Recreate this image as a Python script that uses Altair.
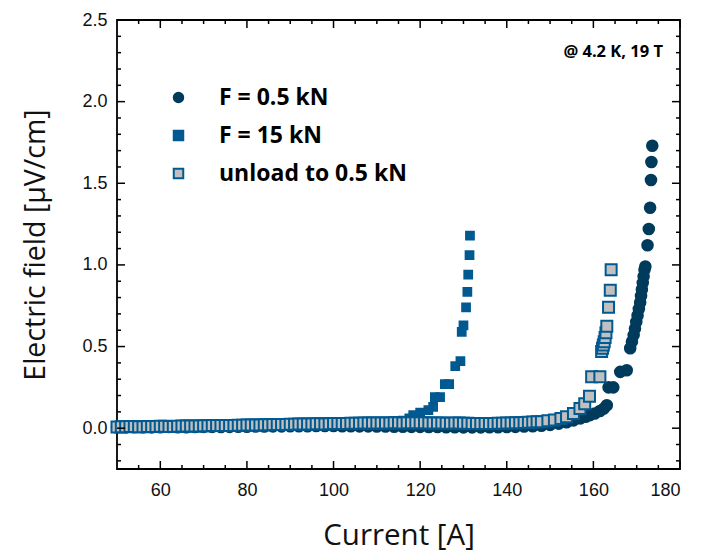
import altair as alt
import pandas as pd

# ---------------- data ----------------
series_names = ["F = 0.5 kN", "F = 15 kN", "unload to 0.5 kN"]

i_05 = [50, 52, 54, 56, 58, 60, 62, 64, 66, 68, 70, 72, 74, 76, 78, 80, 82, 84, 86, 88,
        90, 92, 94, 96, 98, 100, 102, 104, 106, 108, 110, 112, 114, 116, 118, 120, 122,
        124, 126, 128, 130, 132, 134, 136, 138, 140, 142, 144, 146, 148, 150, 152, 153.8,
        155.4, 157, 158.2, 159.2, 160.3, 161.5, 162.4, 163.1, 163.5, 164.6, 166.2, 167.7,
        168.5, 168.9, 169.3, 169.6, 169.9, 170.2, 170.5, 170.8, 171.0, 171.2, 171.4, 171.6,
        171.8, 172.0, 172.5, 172.8, 173.1, 173.3, 173.4, 173.6]
e_05 = [0.005, 0.005, 0.006, 0.006, 0.005, 0.006, 0.007, 0.006, 0.006, 0.007, 0.008, 0.008,
        0.007, 0.008, 0.009, 0.009, 0.010, 0.010, 0.011, 0.011, 0.012, 0.012, 0.012, 0.013,
        0.013, 0.013, 0.012, 0.012, 0.011, 0.011, 0.010, 0.010, 0.009, 0.009, 0.008, 0.008,
        0.007, 0.007, 0.006, 0.006, 0.005, 0.005, 0.005, 0.006, 0.006, 0.007, 0.008, 0.010,
        0.012, 0.015, 0.020, 0.028, 0.036, 0.048, 0.060, 0.070, 0.080, 0.090, 0.105, 0.120,
        0.140, 0.250, 0.250, 0.345, 0.355, 0.49, 0.53, 0.57, 0.61, 0.65, 0.69, 0.73, 0.77,
        0.81, 0.85, 0.89, 0.93, 0.97, 0.99, 1.12, 1.22, 1.35, 1.52, 1.63, 1.73]

i_15 = [50, 52, 54, 56, 58, 60, 62, 64, 66, 68, 70, 72, 74, 76, 78, 80, 82, 84, 86, 88,
        90, 92, 94, 96, 98, 100, 102, 104, 106, 108, 110, 112, 114, 116, 117.5, 118.4,
        120.0, 121.9, 123.0, 123.4, 124.6, 125.7, 126.7, 128.1, 129.3, 129.6, 130.0, 130.6,
        130.9, 131.1, 131.4, 131.5]
e_15 = [0.010, 0.011, 0.010, 0.012, 0.011, 0.013, 0.012, 0.014, 0.016, 0.015, 0.017, 0.018,
        0.017, 0.019, 0.021, 0.020, 0.022, 0.024, 0.023, 0.025, 0.027, 0.026, 0.028, 0.030,
        0.029, 0.031, 0.033, 0.032, 0.034, 0.036, 0.035, 0.038, 0.041, 0.046, 0.060, 0.080,
        0.095, 0.110, 0.130, 0.190, 0.190, 0.270, 0.270, 0.380, 0.410, 0.590, 0.630, 0.740,
        0.835, 0.940, 1.060, 1.180]

i_unload = [50, 51, 52, 53, 54, 55, 56, 57, 58, 59, 60, 61, 62, 63, 64, 65, 66, 67, 68, 69,
            70, 71, 72, 73, 74, 75, 76, 77, 78, 79, 80, 81, 82, 83, 84, 85, 86, 87, 88, 89,
            90, 91, 92, 93, 94, 95, 96, 97, 98, 99, 100, 101, 102, 103, 104, 105, 106, 107,
            108, 109, 110, 111, 112, 113, 114, 115, 116, 117, 118, 119, 120, 121, 122, 123,
            124, 125, 126, 127, 128, 129, 130, 131, 132, 133, 134, 135, 136, 137, 138, 139,
            140, 141, 142, 143, 144, 145, 146, 147, 148, 149.5, 151, 152.5, 153.8, 155.4,
            156.9, 158.0, 159.1, 159.6, 161.5, 161.9, 162.1, 162.3, 162.5, 162.7, 162.9,
            163.1, 163.5, 163.9, 164.1]
e_unload = [0.008, 0.009, 0.009, 0.010, 0.010, 0.009, 0.009, 0.010, 0.011, 0.011, 0.012,
            0.012, 0.011, 0.011, 0.012, 0.013, 0.014, 0.014, 0.013, 0.013, 0.015, 0.015,
            0.016, 0.016, 0.017, 0.017, 0.016, 0.016, 0.018, 0.018, 0.019, 0.019, 0.020,
            0.020, 0.021, 0.021, 0.022, 0.022, 0.022, 0.023, 0.024, 0.024, 0.025, 0.025,
            0.026, 0.026, 0.027, 0.027, 0.026, 0.027, 0.028, 0.028, 0.029, 0.029, 0.030,
            0.030, 0.030, 0.031, 0.031, 0.031, 0.032, 0.032, 0.031, 0.032, 0.033, 0.033,
            0.032, 0.033, 0.034, 0.034, 0.033, 0.033, 0.032, 0.032, 0.031, 0.031, 0.030,
            0.030, 0.031, 0.031, 0.030, 0.030, 0.029, 0.029, 0.028, 0.028, 0.029, 0.029,
            0.030, 0.030, 0.031, 0.032, 0.033, 0.034, 0.035, 0.036, 0.038, 0.039, 0.040,
            0.045, 0.050, 0.060, 0.070, 0.090, 0.120, 0.150, 0.196, 0.315, 0.315, 0.470,
            0.490, 0.510, 0.530, 0.555, 0.585, 0.625, 0.740, 0.845, 0.970]

x_label_values = [60, 80, 100, 120, 140, 160, 180]
x_minor_values = [55, 65, 70, 75, 85, 90, 95, 105, 110, 115, 125, 130, 135, 145, 150,
                  155, 165, 170, 175]
y_label_values = [0.0, 0.5, 1.0, 1.5, 2.0, 2.5]
y_minor_values = [-0.2, -0.1, 0.1, 0.2, 0.3, 0.4, 0.6, 0.7, 0.8, 0.9, 1.1, 1.2, 1.3, 1.4,
                  1.6, 1.7, 1.8, 1.9, 2.1, 2.2, 2.3, 2.4]
annotation = ["@ 4.2 K, 19 T"]

# ---------------- build tables ----------------
rows = []
for name, xs, ys in [(series_names[0], i_05, e_05),
                     (series_names[1], i_15, e_15),
                     (series_names[2], i_unload, e_unload)]:
    for a, b in zip(xs, ys):
        rows.append({"series": name, "I": a, "E": b})
df = pd.DataFrame(rows)

W, H = 563, 449
NAVY = "#003B5C"
BLUE = "#005A91"
GRAY = "#C0C0C0"
TITLE_FONT = "Open Sans"
TICK_FONT = "Liberation Sans"

SIZE_CIRCLE, SIZE_SMALL, SIZE_UNLOAD = 112, 60, 121
test_small = "datum.series === 'F = 15 kN'"
test_unload = "datum.series === 'unload to 0.5 kN'"

xscale = alt.Scale(domain=[50, 180], nice=False, zero=False)
yscale = alt.Scale(domain=[-0.25, 2.5], nice=False, zero=False)

legend = alt.Legend(
    title=None, orient="none", legendX=50, legendY=66,
    labelFont=TITLE_FONT, labelFontSize=23, labelFontWeight="bold",
    labelColor="black", rowPadding=14, labelOffset=29, labelLimit=400,
    symbolOpacity=1, symbolStrokeWidth=2, symbolSize=90,
)

points = alt.Chart(df).mark_point(filled=False, opacity=1, strokeWidth=2).encode(
    x=alt.X("I:Q", scale=xscale,
            axis=alt.Axis(values=x_label_values, ticks=False, domain=False, grid=False,
                          labelFont=TICK_FONT, labelFontSize=18, labelColor="#111",
                          labelPadding=12, title="Current [A]", titleFont=TITLE_FONT,
                          titleFontSize=29.5, titleFontWeight="normal", titleColor="#111",
                          titlePadding=22)),
    y=alt.Y("E:Q", scale=yscale,
            axis=alt.Axis(values=y_label_values, format=".1f", ticks=False, domain=False,
                          grid=False, labelFont=TICK_FONT, labelFontSize=18,
                          labelColor="#111", labelPadding=10,
                          title="Electric field [µV/cm]", titleFont=TITLE_FONT,
                          titleFontSize=28.5, titleFontWeight="normal", titleColor="#111",
                          titlePadding=31)),
    shape=alt.Shape("series:N", scale=alt.Scale(domain=series_names,
                                                range=["circle", "square", "square"]),
                    legend=legend),
    fill=alt.Fill("series:N", scale=alt.Scale(domain=series_names,
                                              range=[NAVY, BLUE, GRAY]), legend=legend),
    stroke=alt.Stroke("series:N", scale=alt.Scale(domain=series_names,
                                                  range=[NAVY, BLUE, BLUE]), legend=legend),
    size=alt.SizeValue(SIZE_CIRCLE, condition=[
        {"test": test_small, "value": SIZE_SMALL},
        {"test": test_unload, "value": SIZE_UNLOAD}]),
)

xmaj = pd.DataFrame({"v": x_label_values})
xmin = pd.DataFrame({"v": x_minor_values})
ymaj = pd.DataFrame({"v": y_label_values})
ymin = pd.DataFrame({"v": y_minor_values})


def xticks(data, length):
    bottom = alt.Chart(data).mark_rule(color="black", strokeWidth=1.5).encode(
        x=alt.X("v:Q", scale=xscale), y=alt.value(H), y2=alt.value(H - length))
    top = alt.Chart(data).mark_rule(color="black", strokeWidth=1.5).encode(
        x=alt.X("v:Q", scale=xscale), y=alt.value(0), y2=alt.value(length))
    return [bottom, top]


def yticks(data, length):
    left = alt.Chart(data).mark_rule(color="black", strokeWidth=1.5).encode(
        y=alt.Y("v:Q", scale=yscale), x=alt.value(0), x2=alt.value(length))
    right = alt.Chart(data).mark_rule(color="black", strokeWidth=1.5).encode(
        y=alt.Y("v:Q", scale=yscale), x=alt.value(W), x2=alt.value(W - length))
    return [left, right]


tick_layers = xticks(xmaj, 8) + xticks(xmin, 4) + yticks(ymaj, 8) + yticks(ymin, 4)

note = alt.Chart(pd.DataFrame({"t": annotation})).mark_text(
    align="right", baseline="middle", font=TITLE_FONT, fontSize=16.5, fontWeight="bold",
    color="black").encode(x=alt.value(546), y=alt.value(32), text="t:N")

chart = alt.layer(points, *tick_layers, note).properties(
    width=W, height=H,
    autosize=alt.AutoSizeParams(type="none"),
    padding={"left": 109, "top": 12, "right": 20, "bottom": 88},
).configure_view(stroke="black", strokeWidth=1.8)

chart.save("out.html", embed_options={"renderer": "svg", "actions": False})
